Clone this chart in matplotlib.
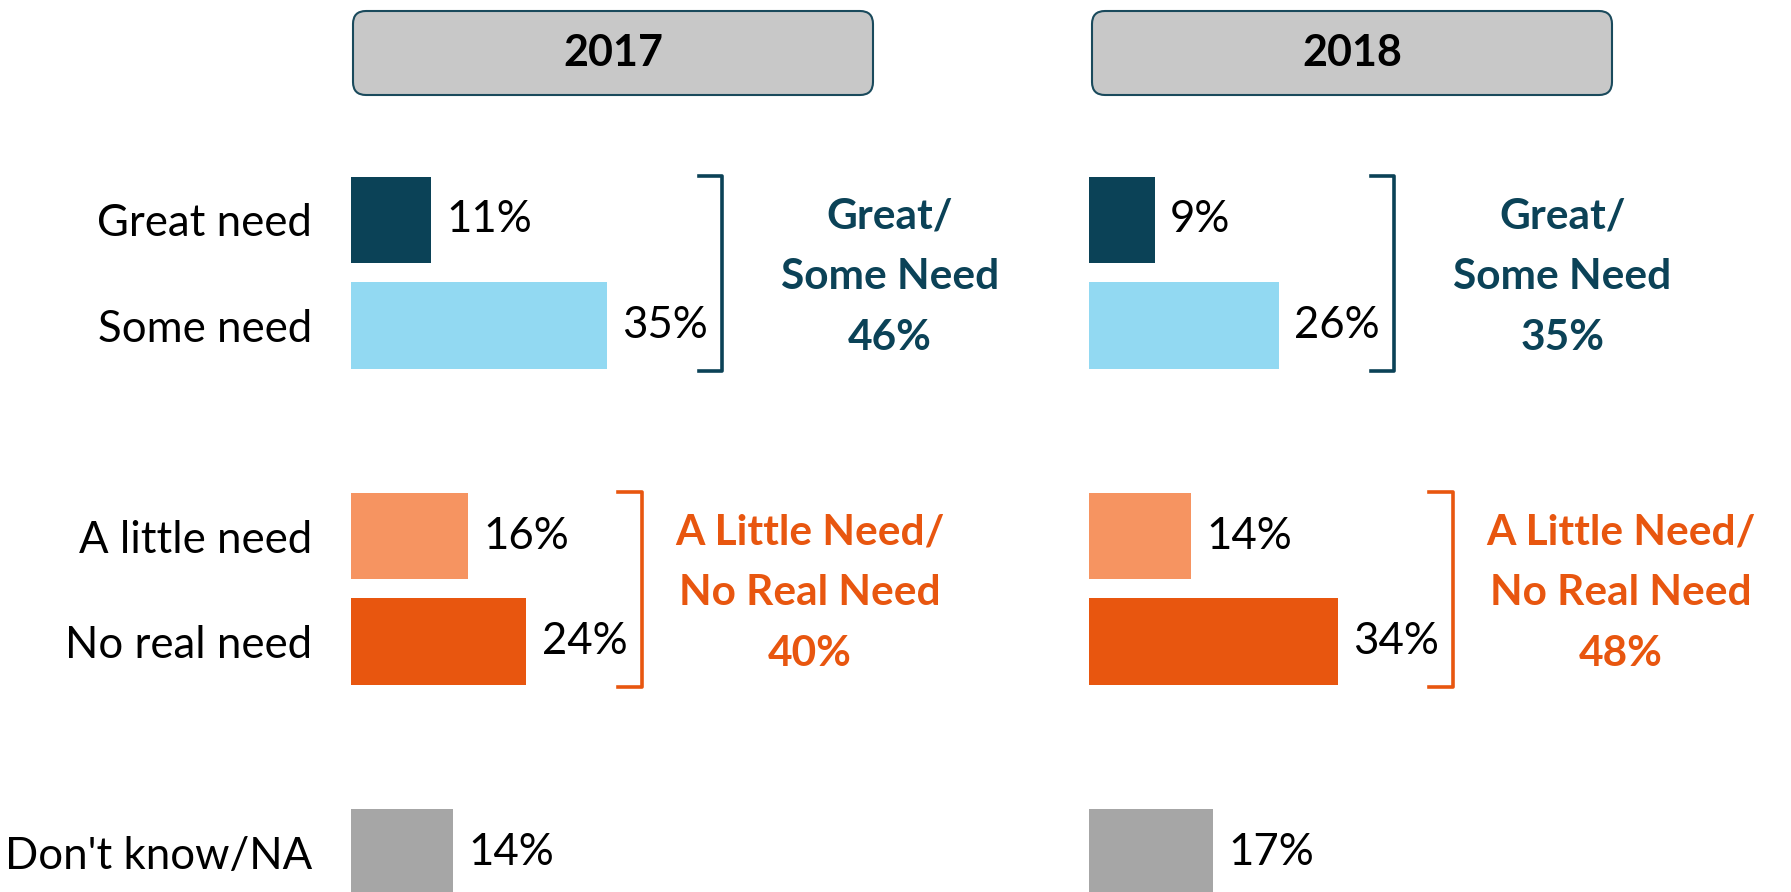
import matplotlib.pyplot as plt
from matplotlib.patches import FancyBboxPatch

plt.rcParams['font.family'] = ['Lato', 'DejaVu Sans']

# data
categories = ['Great need', 'Some need', 'A little need', 'No real need', "Don't know/NA"]
years = ['2017', '2018']
values_2017 = [11, 35, 16, 24, 14]
values_2018 = [9, 26, 14, 34, 17]
bar_colors = ['#0B4257', '#92D9F2', '#F69461', '#E8560F', '#A6A6A6']

group_names = [['Great/', 'Some Need'], ['A Little Need/', 'No Real Need']]
group_members = [[0, 1], [2, 3]]
group_colors = ['#0B4257', '#E8560F']
group_totals_2017 = [46, 40]
group_totals_2018 = [35, 48]

# layout (pixels at 100 dpi)
W, H = 1791, 892
PX_PER_PCT = 7.31
SLOT_PX = 105.4
FIRST_SLOT_Y = 220
slots = [0, 1, 3, 4, 6]
panel_left = [351, 1089]
header_left = [352, 1091]
PANEL_W = 660
FS = 31.5
FS_BOLD = 30.5

fig = plt.figure(figsize=(W / 100, H / 100), dpi=100)

panels = [(values_2017, group_totals_2017), (values_2018, group_totals_2018)]
for i, (vals, totals) in enumerate(panels):
    ax = fig.add_axes([panel_left[i] / W, 0, PANEL_W / W, 1])
    ax.barh(slots, vals, height=0.82, color=bar_colors)
    ax.set_xlim(0, PANEL_W / PX_PER_PCT)
    ax.set_ylim((H - FIRST_SLOT_Y) / SLOT_PX, -FIRST_SLOT_Y / SLOT_PX)
    for s in ax.spines.values():
        s.set_visible(False)
    ax.set_xticks([])
    if i == 0:
        ax.set_yticks(slots, categories, fontsize=FS)
        ax.tick_params(axis='y', length=0, pad=28)
    else:
        ax.set_yticks([])

    for y, v in zip(slots, vals):
        ax.annotate(f'{v}%', (v, y), xytext=(11, 0), textcoords='offset points',
                    ha='left', va='center', fontsize=FS, color='black')

    for g, members in enumerate(group_members):
        top = slots[members[0]] - 0.42
        bot = slots[members[-1]] + 0.43
        bx = max(vals[m] for m in members) + 15.75
        ax.plot([bx - 3.2, bx, bx, bx - 3.2], [top, top, bot, bot],
                color=group_colors[g], lw=2.6, solid_joinstyle='round',
                clip_on=False)
        mid = (slots[members[0]] + slots[members[-1]]) / 2 + 0.04
        lines = group_names[g] + [f'{totals[g]}%']
        for k, txt in enumerate(lines):
            ax.text(bx + 23, mid + (k - 1) * 0.575, txt, ha='center', va='center',
                    fontsize=FS_BOLD, fontweight='bold', color=group_colors[g])

    # year header box
    hw, hh = 522, 86
    hax = fig.add_axes([header_left[i] / W, 1 - 96 / H, hw / W, hh / H])
    hax.set_xlim(0, hw)
    hax.set_ylim(0, hh)
    hax.axis('off')
    r = 13
    hax.add_patch(FancyBboxPatch((r + 1, r + 1), hw - 2 * r - 2, hh - 2 * r - 2,
                                 boxstyle=f'round,pad={r}', facecolor='#C8C8C8',
                                 edgecolor='#1A4A5C', lw=1.5, clip_on=False))
    hax.text(hw / 2, hh / 2, years[i], ha='center', va='center',
             fontsize=31, fontweight='bold', color='black')

fig.savefig('out.png', dpi=100)
